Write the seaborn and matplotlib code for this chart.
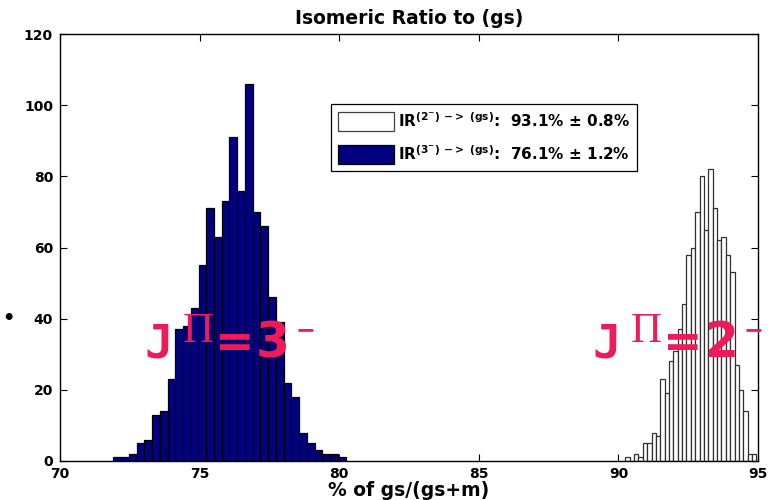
import numpy as np
import pandas as pd
import matplotlib
matplotlib.use("Agg")
import matplotlib.pyplot as plt
from matplotlib.patches import Patch
import seaborn as sns

# ---- data ----
blue_counts = [1, 1, 2, 5, 6, 13, 14, 23, 37, 38, 43, 55, 71, 63, 73,
               91, 76, 106, 70, 66, 46, 39, 22, 18, 8, 5, 3, 2, 2, 1]
blue_range = (71.91, 80.23)
white_counts = [1, 0, 2, 1, 5, 5, 8, 7, 23, 19, 28, 31, 37, 44, 58,
                60, 70, 80, 65, 82, 71, 62, 63, 58, 53, 27, 20, 14, 2, 2]
white_range = (90.25, 94.94)
x_ticks = [70, 75, 80, 85, 90, 95]
y_ticks = [0, 20, 40, 60, 80, 100, 120]
legend_labels = [r"IR$^{\mathrm{(2^{-})\ {-}{>}\ (gs)}}$:  93.1% $\pm$ 0.8%",
                 r"IR$^{\mathrm{(3^{-})\ {-}{>}\ (gs)}}$:  76.1% $\pm$ 1.2%"]
title = "Isomeric Ratio to (gs)"
xlabel = "% of gs/(gs+m)"
spin_values = ["3", "2"]
spin_anchor_x = [73.04, 89.08]   # left edge of the "J", data units
spin_anchor_y = 29.2             # baseline, data units


def bins_of(rng, counts):
    edges = np.linspace(rng[0], rng[1], len(counts) + 1)
    centers = (edges[:-1] + edges[1:]) / 2
    return [float(e) for e in edges], pd.DataFrame({"x": centers, "w": counts})


sns.set_style("ticks")
plt.rcParams["font.family"] = ["DejaVu Sans"]
plt.rcParams["font.weight"] = "bold"
plt.rcParams["mathtext.fontset"] = "dejavusans"
plt.rcParams["mathtext.default"] = "rm"
for key in ["text.color", "axes.labelcolor", "xtick.color", "ytick.color",
            "axes.edgecolor"]:
    plt.rcParams[key] = "black"

fig = plt.figure(figsize=(7.81, 5.0), dpi=100)
ax = fig.add_axes([60 / 781, 1 - 461 / 500, 698 / 781, 427 / 500])

be, bdf = bins_of(blue_range, blue_counts)
we, wdf = bins_of(white_range, white_counts)

sns.histplot(data=bdf, x="x", weights="w", bins=be, color="#000080",
             edgecolor="black", linewidth=0.9, alpha=1, ax=ax)
sns.histplot(data=wdf, x="x", weights="w", bins=we, color="white",
             edgecolor="#303030", linewidth=0.9, alpha=1, ax=ax)

ax.set_xlim(70, 95)
ax.set_ylim(0, 120)
ax.set_xticks(x_ticks)
ax.set_yticks(y_ticks)
ax.set_ylabel("")
ax.set_xlabel(xlabel, fontsize=13.5, fontweight="bold", labelpad=0,
              color="black")
ax.set_title(title, fontsize=13.5, fontweight="bold", pad=7, color="black")
ax.tick_params(direction="in", length=5, width=0.8, top=True, right=True,
               labelsize=10, colors="black")
ax.tick_params(axis="y", pad=5)
ax.tick_params(axis="x", pad=4)
for lab in ax.get_xticklabels() + ax.get_yticklabels():
    lab.set_fontweight("bold")
for s in ax.spines.values():
    s.set_visible(True)
    s.set_color("black")
    s.set_linewidth(1.0)

handles = [Patch(facecolor="white", edgecolor="#404040", linewidth=0.9),
           Patch(facecolor="#000080", edgecolor="black", linewidth=0.9)]
leg = ax.legend(handles, legend_labels, loc="upper left",
                bbox_to_anchor=(0.388, 0.836), fontsize=11,
                handlelength=3.7, handleheight=1.55, handletextpad=0.25,
                labelspacing=0.85, borderpad=0.45, borderaxespad=0,
                fancybox=False, frameon=True, framealpha=1)
leg.get_frame().set_edgecolor("black")
leg.get_frame().set_linewidth(0.9)
for t in leg.get_texts():
    t.set_fontweight("bold")
    t.set_color("black")

pink = "#EE1A5A"
PX = 0.72  # points per pixel at 100 dpi
pieces = [
    # text, dx px, dy px, family, size, weight, va
    ("J", 0, 0, "DejaVu Sans Mono", 34, "bold", "baseline"),
    ("\u03a0", 38, 15, "Liberation Serif", 31, "normal", "baseline"),
    ("=", 70, 13, "DejaVu Sans", 34, "bold", "center"),
    (None, 111, 0, "DejaVu Sans", 35, "bold", "baseline"),
    ("\u2212", 151, 27, "DejaVu Sans", 17, "bold", "center"),
]
for val, ax_x in zip(spin_values, spin_anchor_x):
    for txt, dx, dy, fam, size, wt, va in pieces:
        ax.annotate(val if txt is None else txt, xy=(ax_x, spin_anchor_y),
                    xytext=(dx * PX, dy * PX), textcoords="offset points",
                    color=pink, family=fam, fontsize=size, fontweight=wt,
                    ha="left", va=va, annotation_clip=False, clip_on=False)

fig.text(8 / 781, 1 - 318 / 500, "\u2022", fontsize=14, color="black",
         ha="center", va="center")

fig.savefig("out.png", dpi=100)
